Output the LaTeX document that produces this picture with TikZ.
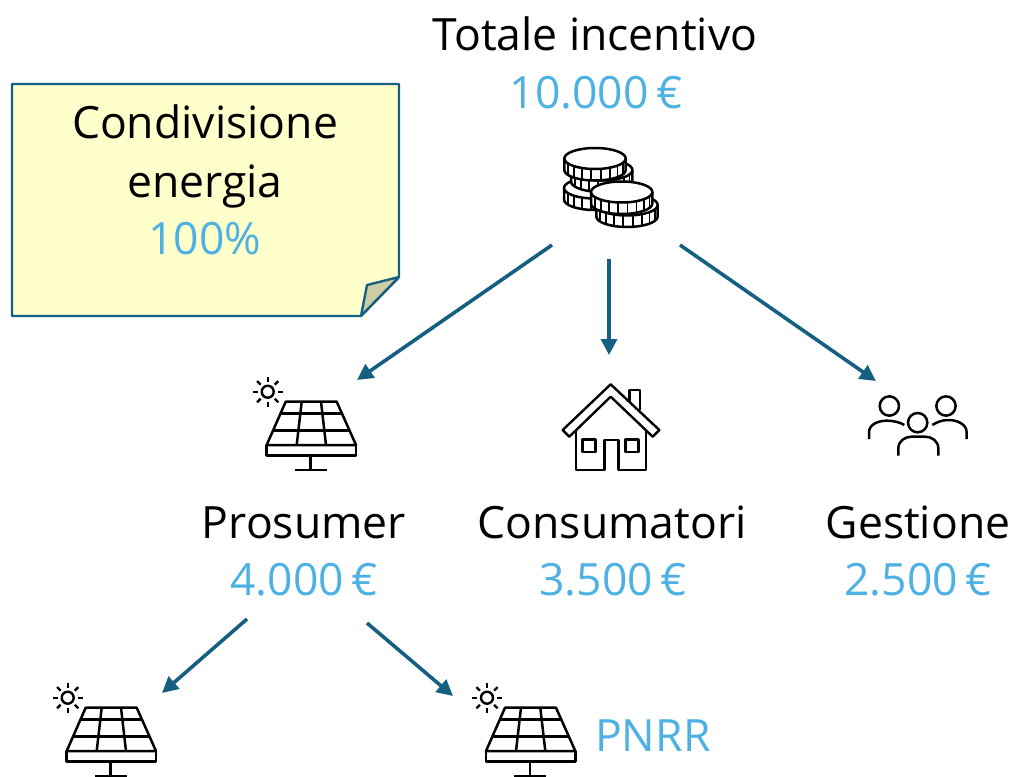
\documentclass[tikz,border=0pt]{standalone}
\usepackage{fontspec}
\setmainfont{Open Sans}
\usetikzlibrary{arrows.meta}
\definecolor{teal}{HTML}{156082}
\definecolor{sky}{HTML}{4EB1E4}
\definecolor{notefill}{HTML}{FFFFCC}
\definecolor{foldfill}{HTML}{CDCDA4}
\newcommand{\drawcoin}[2]{%
  \fill[white] (#1-30.7,#2) -- ++(0,11.5) arc[start angle=180,end angle=0,x radius=30.7,y radius=10.5] -- ++(0,-11.5) -- cycle;
  \draw[icon] (#1-30.7,#2) -- ++(0,11.5) arc[start angle=180,end angle=0,x radius=30.7,y radius=10.5] -- ++(0,-11.5);
  \foreach \a in {25,43,...,160}{\draw[icon,line width=1.7pt] ({#1+30.7*cos(\a)},{#2+10.5*sin(\a)}) -- ++(0,11.5);}
  \draw[icon,fill=white] (#1,#2) ellipse[x radius=30.7,y radius=10.5];
}
\tikzset{
  x=1pt,y=-1pt,
  icon/.style={draw=black,line width=2.5pt,line join=round},
  flow/.style={draw=teal,line width=3.6pt,-{Triangle[length=16pt,width=16pt]}},
  head/.style={anchor=base,font=\fontsize{44.5}{44.5}\selectfont,text=black,inner sep=0pt},
  amount/.style={anchor=base,font=\fontsize{44.5}{44.5}\selectfont,text=sky,inner sep=0pt},
  panel/.pic={
    \draw[icon] (-25,-54) -- (26,-54) -- (45.3,-10.7) -- (-44,-10.7) -- cycle;
    \draw[icon] (-44,-10.7) rectangle (45.3,0);
    \draw[icon] (-30.1,-42.3) -- (31.2,-42.3);
    \draw[icon] (-37.7,-25) -- (38.9,-25);
    \draw[icon] (-9,-54) -- (-14,-10.7);
    \draw[icon] (10.3,-54) -- (15.3,-10.7);
    \draw[icon] (0,0) -- (0,14.3);
    \draw[icon] (-15.7,14.3) -- (16,14.3);
    \draw[icon,line width=2.4pt] (-43,-64) circle[radius=6];
    \foreach \a in {0,45,...,315}{\draw[icon,line width=2.4pt] ({-43+10*cos(\a)},{-64+10*sin(\a)}) -- ({-43+15*cos(\a)},{-64+15*sin(\a)});}
  },
}
\begin{document}
\begin{tikzpicture}
\useasboundingbox (0,0) rectangle (1016,776);
\clip (0,0) rectangle (1016,776);
% note
\draw[draw=teal,line width=2.4pt,fill=notefill,line join=round] (12,84) -- (399,84) -- (399,277) -- (361,316) -- (12,316) -- cycle;
\draw[draw=teal,line width=2.4pt,fill=foldfill,line join=round] (399,277) -- (367,285) -- (361,316) -- cycle;
\node[head] (noteA) at (205,138.5) {Condivisione};
\node[head] (noteB) at (205,197.5) {energia};
\node[amount] (noteC) at (205,254.5) {100\%};
% top
\node[head] (total) at (595,50) {Totale incentivo};
\node[amount] (totalv) at (596,108) {10.000\,€};
\drawcoin{594.7}{188}
\drawcoin{601.7}{170}
\drawcoin{595}{158.5}
\drawcoin{627}{205}
\drawcoin{621.7}{192}
% icons
\pic at (310.7,455.7) {panel};
\pic at (110.7,761.7) {panel};
\pic at (530,761.7) {panel};
% house
\begin{scope}[shift={(550,375)},x=0.3333pt,y=-0.3333pt]
\draw[icon,line width=2.4pt] (238,80) -- (238,45) -- (270,45) -- (270,105);
\draw[icon,line width=2.4pt] (182,28) -- (38,165) -- (58,185) -- (182,65) -- (308,185) -- (328,165) -- cycle;
\draw[icon,line width=2.4pt] (78,165) -- (78,285) -- (163,285) -- (163,195) -- (205,195) -- (205,285) -- (288,285) -- (288,165);
\draw[icon,line width=2.4pt] (98,193) rectangle (137,231);
\draw[icon,line width=2.4pt] (227,193) rectangle (266,231);
\end{scope}
% people
\begin{scope}[shift={(855,385)},x=0.3333pt,y=-0.3333pt]
\draw[icon] (103,63) circle[radius=29];
\draw[icon] (273,63) circle[radius=29];
\draw[icon] (188,113) circle[radius=29];
\draw[icon] (42,162) -- (42,142) .. controls (42,118) and (70,107) .. (95,107) .. controls (115,107) and (135,112) .. (148,120);
\draw[icon] (335,162) -- (335,142) .. controls (335,118) and (307,105) .. (280,105) .. controls (260,105) and (245,112) .. (232,120);
\draw[icon] (130,212) -- (130,190) .. controls (130,168) and (150,155) .. (170,155) -- (210,155) .. controls (230,155) and (250,168) .. (250,190) -- (250,212);
\end{scope}
% labels
\node[head] (pros) at (304,538) {Prosumer};
\node[amount] (prosv) at (304,595) {4.000\,€};
\node[head] (cons) at (612,538) {Consumatori};
\node[amount] (consv) at (613,595) {3.500\,€};
\node[head] (gest) at (918,538) {Gestione};
\node[amount] (gestv) at (918,595) {2.500\,€};
\node[amount,anchor=base west] (pnrr) at (595,751) {PNRR};
% connectors
\coordinate (a1s) at (552,245); \coordinate (a1e) at (357,380);
\coordinate (a2s) at (609,259); \coordinate (a2e) at (609,355);
\coordinate (a3s) at (680,245); \coordinate (a3e) at (876,381);
\coordinate (a4s) at (247,619); \coordinate (a4e) at (162,693);
\coordinate (a5s) at (367,623); \coordinate (a5e) at (453,696);
\draw[flow] (a1s) -- (a1e);
\draw[flow] (a2s) -- (a2e);
\draw[flow] (a3s) -- (a3e);
\draw[flow] (a4s) -- (a4e);
\draw[flow] (a5s) -- (a5e);
\end{tikzpicture}
\end{document}
